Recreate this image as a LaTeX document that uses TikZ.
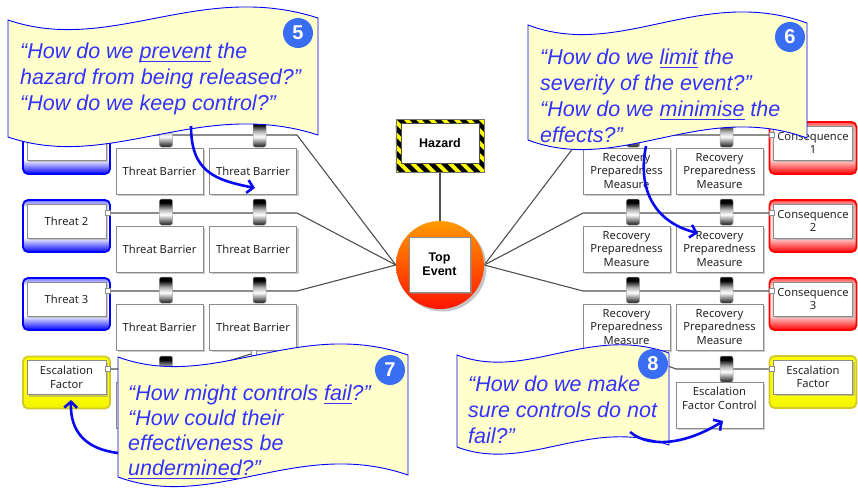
\documentclass[tikz,border=0pt]{standalone}
\usepackage{fontspec}
\setmainfont{Liberation Sans}
\newfontfamily\boxfont{Noto Sans}
\usetikzlibrary{arrows.meta,shadows}

\definecolor{calloutfill}{HTML}{FFFFCC}
\definecolor{calloutblue}{HTML}{3333FF}
\definecolor{edgeblue}{HTML}{0000FF}
\definecolor{pointerblue}{HTML}{0A0AF0}
\definecolor{badgeblue}{HTML}{3A6EF2}
\definecolor{linegray}{HTML}{505050}
\definecolor{boxgray}{HTML}{8C8C8C}
\definecolor{hazyellow}{HTML}{FFFF00}
\definecolor{teorange}{HTML}{FF9A00}
\definecolor{tered}{HTML}{FF1500}

% frame fills: coloured foot, white body, tinted top rim
\pgfdeclareverticalshading{threatfill}{100bp}{color(0bp)=(blue); color(25bp)=(blue); color(39bp)=(white); color(68bp)=(white); color(75bp)=(blue!55); color(100bp)=(blue!55)}
\pgfdeclareverticalshading{consfill}{100bp}{color(0bp)=(red); color(25bp)=(red); color(39bp)=(red!15); color(68bp)=(red!15); color(75bp)=(red!70); color(100bp)=(red!70)}
\pgfdeclareverticalshading{escfill}{100bp}{color(0bp)=(yellow!95!black); color(25bp)=(yellow!95!black); color(40bp)=(yellow); color(100bp)=(yellow)}
% barrier bar: dark caps with a bright band
\pgfdeclareverticalshading{barfill}{100bp}{color(0bp)=(black); color(25bp)=(black!90); color(45bp)=(white); color(55bp)=(black!30); color(68bp)=(black); color(75bp)=(black); color(100bp)=(black)}

\pgfdeclarelayer{paper}
\pgfdeclarelayer{wires}
\pgfsetlayers{paper,wires,main}

% underline at a fixed depth below the baseline
\newcommand{\ulw}[1]{\setbox0=\hbox{#1}\rlap{\rule[-4.2pt]{\wd0}{1.3pt}}\box0\relax}

% coloured frame with a white label box inside
\newcommand{\frameitem}[6]{%
  \node[framebox, shade, shading=#4, draw=#5] (#1) at (#2,#3) {};
  \node[innerbox] (#1-in) at (#2,{#3-5}) {#6};
}

% wavy banner: left x, top y, width, height, amplitude
\newcommand{\wavebanner}[5]{%
  \path[callout] (#1,#2)
    .. controls +({0.33*#3},{35*#5}) and +({-0.38*#3},{-38*#5}) .. ({#1+#3},{#2-2})
    -- ({#1+#3},{#2-2+#4})
    .. controls +({-0.38*#3},{-38*#5}) and +({0.33*#3},{35*#5}) .. (#1,{#2+#4})
    -- cycle;
}

\tikzset{
  conn/.style={draw=linegray, line width=1.1pt},
  boxnode/.style={draw=boxgray, fill=white, line width=0.8pt,
    font=\boxfont\fontsize{11.2}{13.5}\selectfont, text=black!85, align=center,
    inner sep=0pt,
    drop shadow={shadow xshift=2pt, shadow yshift=-2pt, fill=black!40, opacity=0.5}},
  barrierbox/.style={boxnode, minimum width=87pt, minimum height=46pt},
  framebox/.style={rounded corners=5pt, minimum width=87pt, minimum height=52pt,
    line width=1.8pt, inner sep=0pt},
  innerbox/.style={boxnode, minimum width=79pt, minimum height=34pt},
  boxtext/.style={font=\boxfont\fontsize{11.2}{13.5}\selectfont, text=black!85,
    align=center, inner sep=0pt},
  barbar/.style={rounded corners=2pt, draw=black!35, line width=0.5pt,
    shade, shading=barfill,
    minimum width=13pt, minimum height=26pt, inner sep=0pt},
  port/.style={draw=boxgray, fill=white, line width=0.6pt, minimum size=5pt, inner sep=0pt},
  callout/.style={fill=calloutfill, draw=edgeblue, line width=0.9pt},
  ctext/.style={text=calloutblue, font=\fontsize{21.5}{26}\selectfont\itshape,
    anchor=base west, inner sep=0pt},
  badge/.style={circle, fill=badgeblue, text=white,
    font=\fontsize{20}{20}\selectfont\bfseries, minimum size=30pt, inner sep=0pt},
  pointer/.style={draw=pointerblue, line width=2.6pt,
    -{Straight Barb[length=6pt,width=13pt]}},
}

\begin{document}
\begin{tikzpicture}[x=1pt,y=-1pt]
\useasboundingbox (0,0) rectangle (858,491);
\begin{pgfonlayer}{paper}
  \fill[white] (0,0) rectangle (858,491);
\end{pgfonlayer}

% ---------------- threats, consequences, escalation factors
\frameitem{t1}{66.5}{148}{threatfill}{edgeblue}{}
\frameitem{t2}{66.5}{226}{threatfill}{edgeblue}{Threat 2}
\frameitem{t3}{66.5}{304}{threatfill}{edgeblue}{Threat 3}
\frameitem{c1}{813}{148}{consfill}{red}{Consequence\\1}
\frameitem{c2}{813}{226}{consfill}{red}{Consequence\\2}
\frameitem{c3}{813}{304}{consfill}{red}{Consequence\\3}
\frameitem{ef1}{66.5}{382.5}{escfill}{yellow!80!black}{Escalation\\Factor}
\frameitem{ef2}{813}{382}{escfill}{yellow!80!black}{Escalation\\Factor}

% ---------------- barrier boxes
\node[barrierbox] (tb11) at (159.5,171) {Threat Barrier};
\node[barrierbox] (tb12) at (253,171) {Threat Barrier};
\node[barrierbox] (tb21) at (159.5,249) {Threat Barrier};
\node[barrierbox] (tb22) at (253,249) {Threat Barrier};
\node[barrierbox] (tb31) at (159.5,327) {Threat Barrier};
\node[barrierbox] (tb32) at (253,327) {Threat Barrier};
\node[barrierbox] (efc1) at (159.5,405) {};

\node[barrierbox] (rm11) at (626.5,171) {Recovery\\Preparedness\\Measure};
\node[barrierbox] (rm12) at (719.5,171) {Recovery\\Preparedness\\Measure};
\node[barrierbox] (rm21) at (626.5,249) {Recovery\\Preparedness\\Measure};
\node[barrierbox] (rm22) at (719.5,249) {Recovery\\Preparedness\\Measure};
\node[barrierbox] (rm31) at (626.5,327) {Recovery\\Preparedness\\Measure};
\node[barrierbox] (rm32) at (719.5,327) {Recovery\\Preparedness\\Measure};
\node[barrierbox] (efc2) at (719.5,405) {};
\node[boxtext] (efc2t) at (719.5,398.5) {Escalation\\Factor Control};

% ---------------- hazard
\node[minimum width=88pt, minimum height=53pt, inner sep=0pt] (hz) at (440,145.5) {};
\begin{scope}
  \clip (hz.north west) rectangle (hz.south east);
  \fill[hazyellow] (hz.north west) rectangle (hz.south east);
  \foreach \k in {-6,...,8} {
    \fill[black] ({396+\k*12.5},119) -- ++(6.5,0) -- ++(53,53) -- ++(-6.5,0) -- cycle;
  }
\end{scope}
\draw[black!55, line width=0.6pt] (hz.north west) rectangle (hz.south east);
\node[draw=black!70, fill=white, line width=0.6pt, minimum width=78pt, minimum height=40pt,
  inner sep=0pt, font=\fontsize{12.5}{14}\selectfont\bfseries] (hzt) at (440,143) {Hazard};

% ---------------- top event
\node[circle, minimum size=88pt, inner sep=0pt, top color=teorange, bottom color=tered,
  drop shadow={shadow xshift=2.5pt, shadow yshift=-2.5pt, fill=black!45, opacity=0.5}]
  (te) at (440,265) {};
\node[boxnode, minimum width=61pt, minimum height=55pt,
  font=\fontsize{12.5}{14}\selectfont\bfseries, text=black] (tet) at (439.5,264.5) {Top\\Event};

% ---------------- connector ports
\node[port] (t1p) at (108,135) {};
\node[port] (t2p) at (108,213) {};
\node[port] (t3p) at (108,291) {};
\node[port] (c1p) at (772,135) {};
\node[port] (c2p) at (772,213) {};
\node[port] (c3p) at (772,291) {};
\node[port] (ef1p) at (108,369) {};
\node[port] (ef2p) at (772,369) {};
\node[port] (tb32p) at (254,353) {};

% ---------------- wires (under everything)
\begin{pgfonlayer}{wires}
  \draw[conn] (t1p.center) -- (297,135) -- (te.west);
  \draw[conn] (t2p.center) -- (297,213) -- (te.west);
  \draw[conn] (t3p.center) -- (297,291) -- (te.west);
  \draw[conn] (c1p.center) -- (583,135) -- (te.east);
  \draw[conn] (c2p.center) -- (583,213) -- (te.east);
  \draw[conn] (c3p.center) -- (583,291) -- (te.east);
  \draw[conn] (ef1p.center) -- (203,369) -- (tb32p.center);
  \draw[conn] (ef2p.center) -- (676,369) -- (rm31.south);
  \draw[conn] (hz.south) -- (te.north);
\end{pgfonlayer}

% ---------------- barrier bars on the wires
\node[barbar] (bl11) at (166,134) {};
\node[barbar] (bl12) at (259.5,134) {};
\node[barbar] (bl21) at (166,212) {};
\node[barbar] (bl22) at (259.5,212) {};
\node[barbar] (bl31) at (166,290) {};
\node[barbar] (bl32) at (259.5,290) {};
\node[barbar] (br11) at (633,134) {};
\node[barbar] (br12) at (726.5,134) {};
\node[barbar] (br21) at (633,212) {};
\node[barbar] (br22) at (726.5,212) {};
\node[barbar] (br31) at (633,290) {};
\node[barbar] (br32) at (726.5,290) {};
\node[barbar] (be1) at (166,369) {};
\node[barbar] (be2) at (726.5,369) {};

% ---------------- banners with questions
\wavebanner{8}{20}{310}{117}{1}
\node[ctext] (q5a) at (20,58) {“How do we \ulw{prevent} the};
\node[ctext] (q5b) at (20,84) {hazard from being released?”};
\node[ctext] (q5c) at (20,110) {“How do we keep control?”};

\wavebanner{528}{25}{279}{115}{1}
\node[ctext] (q6a) at (540,64) {“How do we \ulw{limit} the};
\node[ctext] (q6b) at (540,90) {severity of the event?”};
\node[ctext] (q6c) at (540,116) {“How do we \ulw{minimise} the};
\node[ctext] (q6d) at (540,142) {effects?”};

\wavebanner{118}{357}{290}{120}{1}
\node[ctext] (q7a) at (128,400) {“How might controls \ulw{fail}?”};
\node[ctext] (q7b) at (128,425) {“How could their};
\node[ctext] (q7c) at (128,450) {effectiveness be};
\node[ctext] (q7d) at (128,475) {\ulw{undermined}?”};

\wavebanner{457}{355}{212}{92}{0.75}
\node[ctext] (q8a) at (468,391) {“How do we make};
\node[ctext] (q8b) at (468,417) {sure controls do not};
\node[ctext] (q8c) at (468,443) {fail?”};

% ---------------- pointers
\coordinate (a5s) at (191,126);
\coordinate (a5e) at (255,188);
\draw[pointer] (a5s) .. controls (191,172) and (215,180) .. (a5e);
\coordinate (a6s) at (646,146);
\coordinate (a6e) at (698,233);
\draw[pointer] (a6s) .. controls (636,195) and (660,224) .. (a6e);
\coordinate (a7s) at (118,453);
\coordinate (a7e) at (71,400);
\draw[pointer] (a7s) .. controls (86,449) and (70,432) .. (a7e);
\coordinate (a8s) at (630,432);
\coordinate (a8e) at (723,421);
\draw[pointer] (a8s) .. controls (652,450) and (690,442) .. (a8e);

% ---------------- numbered badges
\node[badge] (b5) at (298,33) {5};
\node[badge] (b6) at (790,37) {6};
\node[badge] (b7) at (390,370) {7};
\node[badge] (b8) at (653,364) {8};
\end{tikzpicture}
\end{document}
